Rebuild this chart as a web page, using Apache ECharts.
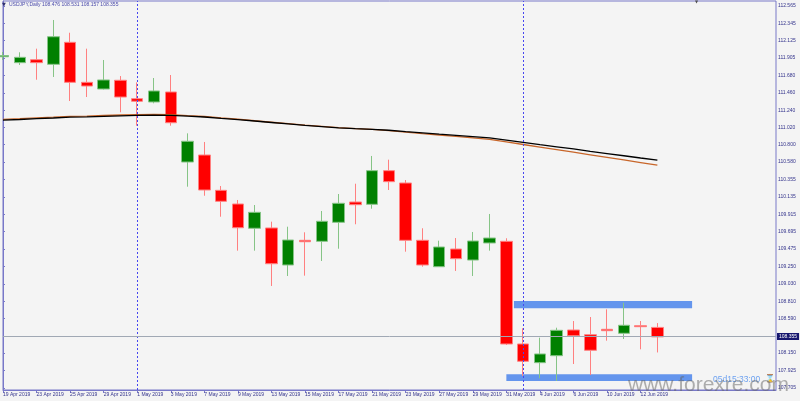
<!DOCTYPE html>
<html><head><meta charset="utf-8">
<script src="https://cdn.jsdelivr.net/npm/echarts@6/dist/echarts.min.js"></script>
<style>html,body{margin:0;padding:0;background:#f4f4f4}#c{width:800px;height:401px}</style>
</head><body><div id="c"></div><script>
const symbolName = 'USDJPY,Daily';
const dates = ['19 Apr 2019','22 Apr 2019','23 Apr 2019','24 Apr 2019','25 Apr 2019','26 Apr 2019','29 Apr 2019','30 Apr 2019',
  '1 May 2019','2 May 2019','3 May 2019','6 May 2019','7 May 2019','8 May 2019','9 May 2019','10 May 2019',
  '13 May 2019','14 May 2019','15 May 2019','16 May 2019','17 May 2019','20 May 2019','21 May 2019','22 May 2019',
  '23 May 2019','24 May 2019','27 May 2019','28 May 2019','29 May 2019','30 May 2019','31 May 2019',
  '3 Jun 2019','4 Jun 2019','5 Jun 2019','6 Jun 2019','7 Jun 2019','10 Jun 2019','11 Jun 2019','12 Jun 2019','13 Jun 2019'];
const opens  = [111.919,111.844,111.882,111.823,112.103,111.594,111.509,111.620,111.386,111.344,
  111.471,110.580,110.669,110.220,110.046,109.737,109.741,109.270,109.584,109.571,
  109.813,110.071,110.042,110.470,110.313,109.584,109.248,109.473,109.333,109.550,
  109.571,108.265,108.027,108.116,108.443,108.383,108.452,108.401,108.498,108.476];
const highs  = [111.980,111.976,112.022,112.387,112.225,112.022,111.878,111.674,111.594,111.649,
  111.687,110.945,110.835,110.275,110.097,110.033,109.821,109.757,109.686,109.957,
  110.173,110.304,110.657,110.610,110.351,109.737,109.579,109.613,109.690,109.919,
  109.610,108.465,108.345,108.472,108.557,108.608,108.706,108.790,108.557,108.531];
const lows   = [111.878,111.814,111.627,111.662,111.356,111.407,111.503,111.213,111.042,111.327,
  111.042,110.266,110.151,109.884,109.452,109.452,109.003,109.130,109.134,109.321,
  109.477,109.788,109.986,110.224,109.439,109.248,109.244,109.194,109.130,109.452,
  108.252,107.858,107.828,107.794,108.010,107.870,108.307,108.328,108.197,108.157];
const closes = [111.935,111.912,111.844,112.174,111.594,111.547,111.624,111.407,111.353,111.484,
  111.080,110.844,110.224,110.080,109.744,109.940,109.286,109.588,109.566,109.826,
  110.055,110.037,110.470,110.330,109.584,109.270,109.499,109.350,109.575,109.613,
  108.265,108.045,108.138,108.439,108.370,108.185,108.434,108.503,108.485,108.355];
const maBlack = [111.112,111.121,111.131,111.140,111.150,111.155,111.162,111.168,111.174,111.177,
  111.173,111.164,111.153,111.136,111.120,111.102,111.083,111.065,111.047,111.031,
  111.015,111.005,110.996,110.984,110.967,110.952,110.935,110.919,110.903,110.887,
  110.859,110.831,110.802,110.774,110.746,110.716,110.688,110.660,110.631,110.603];
const maBrown = [111.122,111.131,111.141,111.150,111.160,111.165,111.172,111.178,111.184,111.187,
  111.183,111.170,111.159,111.142,111.126,111.105,111.086,111.068,111.050,111.034,
  111.018,111.005,110.996,110.979,110.961,110.942,110.924,110.905,110.887,110.868,
  110.836,110.803,110.770,110.737,110.705,110.672,110.639,110.606,110.573,110.540];
const priceTicks = [112.565,112.345,112.125,111.905,111.680,111.460,111.240,111.020,110.800,110.580,
  110.355,110.135,109.915,109.695,109.475,109.250,109.030,108.810,108.590,108.150,107.925,107.705];
const dateTickIdx = [0,2,4,6,8,10,12,14,16,18,20,22,24,26,28,30,32,34,36,38];
const separatorIdx = [8,31];
const zoneStart = [30.45,30.0];
const zoneEnd   = [41.07,41.07];
const zoneLow   = [108.719,107.794];
const zoneHigh  = [108.812,107.879];
const countdownText = '05d15:33:00';
const watermarkText = 'www.forexre.com';

const FONT = 'Liberation Sans';
const AXIS_C = '#7878c8';
const TXT_C = '#34348c';
const last = closes.length - 1;
const lastPrice = closes[last];

const chart = echarts.init(document.getElementById('c'), null, {renderer: 'canvas'});
chart.setOption({
  animation: false,
  backgroundColor: '#f4f4f4',
  grid: {left: 2, right: 24, top: 1, bottom: 11, show: true, borderColor: AXIS_C, borderWidth: 1, backgroundColor: '#f4f4f4'},
  xAxis: {
    type: 'value', min: 0, max: 46.07,
    splitLine: {show: false},
    axisLine: {show: true, lineStyle: {color: AXIS_C}},
    axisTick: {show: true, length: 3, customValues: dateTickIdx, lineStyle: {color: AXIS_C}},
    axisLabel: {customValues: dateTickIdx, formatter: v => dates[Math.round(v)] || '', align: 'left',
      margin: 2, fontFamily: FONT, fontSize: 5, color: TXT_C, hideOverlap: false}
  },
  yAxis: {
    type: 'value', position: 'right', min: 107.6795, max: 112.6286, scale: true,
    splitLine: {show: false},
    axisLine: {show: true, lineStyle: {color: AXIS_C}},
    axisTick: {show: true, length: 2, customValues: priceTicks, lineStyle: {color: AXIS_C}},
    axisLabel: {customValues: priceTicks, formatter: v => v.toFixed(3), margin: 2,
      fontFamily: FONT, fontSize: 5, color: TXT_C}
  },
  series: [
    {
      type: 'line', data: [], z: 1, silent: true,
      markArea: {silent: true, itemStyle: {color: '#6495ed', opacity: 1},
        data: zoneStart.map((s, k) => [{coord: [s, zoneHigh[k]]}, {coord: [zoneEnd[k], zoneLow[k]]}])},
      markLine: {silent: true, symbol: 'none', animation: false,
        lineStyle: {type: [2, 2], color: '#4646f0', width: 1, opacity: 1},
        label: {show: false},
        data: separatorIdx.map(i => ({xAxis: i}))
          .concat([{yAxis: lastPrice, lineStyle: {type: 'solid', color: '#a0a8b4', width: 1},
            label: {show: true, position: 'end', formatter: lastPrice.toFixed(3), backgroundColor: '#16166e',
              color: '#ffffff', fontFamily: FONT, fontSize: 5, padding: [1, 2, 1, 2], distance: 1}}])}
    },
    {
      type: 'candlestick', z: 2, barWidth: 12,
      data: opens.map((o, i) => [i, o, closes[i], lows[i], highs[i]]),
      encode: {x: 0, y: [1, 2, 3, 4]},
      itemStyle: {color: '#008000', color0: '#ff0000', borderColor: '#86c486', borderColor0: '#ff8080', borderWidth: 1}
    },
    {type: 'line', z: 3, symbol: 'none', silent: true, data: maBrown.map((v, i) => [i, v]),
      lineStyle: {color: '#c8662a', width: 1.3}},
    {type: 'line', z: 4, symbol: 'none', silent: true, data: maBlack.map((v, i) => [i, v]),
      lineStyle: {color: '#000000', width: 1.3}}
  ],
  graphic: [
    {type: 'text', left: 2, top: 2, z: 10, style: {text: '▼', fontSize: 5, fill: '#303070', fontFamily: 'DejaVu Sans'}},
    {type: 'text', left: 9, top: 2.5, z: 10, style: {text: symbolName + ' ' + [opens[last], highs[last], lows[last], closes[last]].map(v => v.toFixed(3)).join(' '),
      fontSize: 5, fill: '#4a4aaa', fontFamily: FONT}},
    {type: 'text', left: 695, top: 0, z: 10, style: {text: '▼', fontSize: 4, fill: '#505050', fontFamily: 'DejaVu Sans'}},
    {type: 'text', x: 713, y: 380, z: 10, style: {text: countdownText, fontSize: 8.5, fill: '#6ea2f0', fontFamily: FONT, verticalAlign: 'middle'}},
    {type: 'text', x: 765, y: 379, z: 10, style: {text: '⌛', fontSize: 8, fill: '#6ea2f0', fontFamily: 'DejaVu Sans', verticalAlign: 'middle'}},
    {type: 'text', x: 628, y: 385, z: 11, style: {text: watermarkText, fontSize: 21, fill: 'rgba(100,100,100,0.5)', fontFamily: FONT, verticalAlign: 'middle'}}
  ]
});
</script></body></html>
